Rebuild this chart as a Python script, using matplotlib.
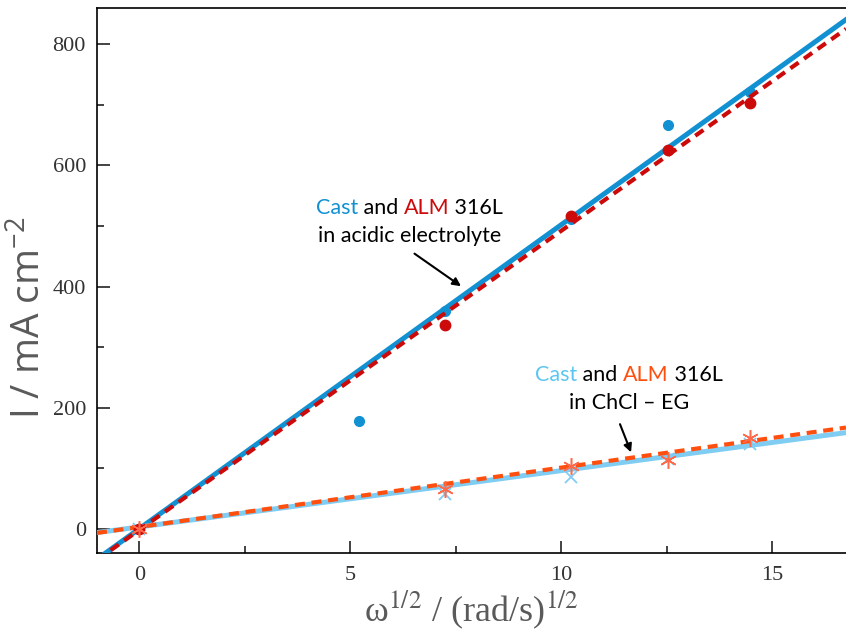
import numpy as np
import matplotlib
matplotlib.use("Agg")
import matplotlib.pyplot as plt
from matplotlib.offsetbox import TextArea, HPacker, VPacker, AnnotationBbox

# sqrt of rotation rate, (rad/s)^1/2
x_pts = [0, 5.2, 7.24, 10.23, 12.53, 14.47]

# acidic electrolyte
cast_acid = [0, 178, 360, 512, 667, 722]
alm_acid = [0, None, 337, 516, 625, 703]
# ChCl - EG
cast_des = [0, None, 57, 86, 116, 140]
alm_des = [0, None, 66, 103, 114, 150]

# fitted lines: slope, intercept
fit_cast_acid = (50.2, 0.0)
fit_alm_acid = (49.4, -2.0)
fit_cast_des = (9.3, 3.0)
fit_alm_des = (9.8, 3.0)

c_blue = "#1191d2"
c_red = "#cc0a0a"
c_lblue = "#80cdf3"
c_orange = "#ff4f0f"


def pts(ys):
    xs = [x for x, y in zip(x_pts, ys) if y is not None]
    return xs, [y for y in ys if y is not None]


fig = plt.figure(figsize=(8.46, 6.33), dpi=100)
ax = fig.add_axes([97 / 846, 1 - 553 / 633, 1 - 97 / 846, (553 - 8) / 633])

xl = np.array([-1.0, 16.75])

xs, ys = pts(cast_acid)
ax.plot(xs, ys, "o", color=c_blue, ms=7, zorder=2)
xs, ys = pts(cast_des)
ax.plot(xs, ys, "x", color=c_lblue, ms=9, mew=1.3, zorder=2)

ax.plot(xl, fit_cast_acid[0] * xl + fit_cast_acid[1], "-", color=c_blue, lw=3.6, zorder=3)
ax.plot(xl, fit_alm_acid[0] * xl + fit_alm_acid[1], "--", color=c_red, lw=3.0,
        dashes=(2.4, 1.6), zorder=4)
ax.plot(xl, fit_cast_des[0] * xl + fit_cast_des[1], "-", color=c_lblue, lw=3.6, zorder=3)
ax.plot(xl, fit_alm_des[0] * xl + fit_alm_des[1], "--", color=c_orange, lw=3.0,
        dashes=(2.4, 1.6), zorder=4)

xs, ys = pts(alm_acid)
ax.plot(xs, ys, "o", color=c_red, ms=7.5, zorder=5)
xs, ys = pts(alm_des)
ax.plot(xs, ys, marker=(6, 2, 0), ls="none", color="#ff6a4a", ms=12, mew=1.1, zorder=5)

ax.set_xlim(xl)
ax.set_ylim(-40, 860)
ax.spines["right"].set_visible(False)
for s in ax.spines.values():
    s.set_linewidth(1.2)
ax.set_xticks([0, 5, 10, 15])
ax.set_xticks([2.5, 7.5, 12.5], minor=True)
ax.set_yticks([0, 200, 400, 600, 800])
ax.set_yticks([100, 300, 500, 700], minor=True)
ax.tick_params(which="both", direction="in", width=1.2, colors="#222222")
ax.tick_params(which="major", length=9, labelsize=16)
ax.tick_params(which="minor", length=5)
ax.tick_params(axis="y", pad=8)
ax.tick_params(axis="x", pad=9)
for lab in ax.get_xticklabels() + ax.get_yticklabels():
    lab.set_family("Liberation Serif")
    lab.set_color("#333333")

fig.text(471 / 846, 1 - 610 / 633, r"ω$^{1/2}$ / (rad/s)$^{1/2}$", ha="center", va="center",
         family="Liberation Serif", fontsize=26, color="#5a5a5a",
         math_fontfamily="stix")
fig.text(30 / 846, 1 - 318 / 633, r"I / mA cm$^{\mathregular{-2}}$", ha="center", va="center",
         rotation=90, family="Open Sans", fontsize=28, color="#5a5a5a")


def label(parts, line2, xy):
    props = dict(family="Lato", fontsize=15.5)
    row1 = HPacker(children=[TextArea(t, textprops=dict(color=c, **props)) for t, c in parts],
                   pad=0, sep=0, align="baseline")
    row2 = TextArea(line2, textprops=dict(color="black", **props))
    box = VPacker(children=[row1, row2], pad=0, sep=6, align="center")
    ab = AnnotationBbox(box, xy, xycoords="data", frameon=False, box_alignment=(0.5, 0.5))
    ax.add_artist(ab)


label([("Cast", c_blue), (" and ", "black"), ("ALM", c_red), (" 316L", "black")],
      "in acidic electrolyte", (6.4, 507))
label([("Cast", "#5cc6f2"), (" and ", "black"), ("ALM", c_orange), (" 316L", "black")],
      "in ChCl – EG", (11.6, 231))

ax.annotate("", xy=(7.68, 398), xytext=(6.47, 457),
            arrowprops=dict(arrowstyle="-|>", color="black", lw=1.5, mutation_scale=12))
ax.annotate("", xy=(11.68, 122), xytext=(11.37, 177),
            arrowprops=dict(arrowstyle="-|>", color="black", lw=1.5, mutation_scale=12))

fig.savefig("out.png", dpi=100)
